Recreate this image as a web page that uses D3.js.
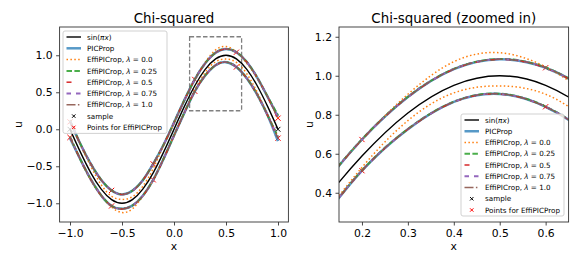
<!DOCTYPE html>
<html><head><meta charset="utf-8">
<script src="https://cdn.jsdelivr.net/npm/d3@7"></script>
<style>body{margin:0;background:#fff}svg{display:block;font-family:"DejaVu Sans",sans-serif}</style>
</head><body><svg id="c" width="581" height="264"></svg>
<script>
// ---------- data ----------
const xs = [-1.0,-0.9,-0.8,-0.7,-0.6,-0.5,-0.4,-0.3,-0.2,-0.1,0.0,0.1,0.2,0.3,0.4,0.5,0.6,0.7,0.8,0.9,1.0];
const sinVals = [0,-0.309,-0.588,-0.809,-0.951,-1.0,-0.951,-0.809,-0.588,-0.309,0,0.309,0.588,0.809,0.951,1.0,0.951,0.809,0.588,0.309,0];

const picUpper = [0.11,-0.199,-0.468,-0.684,-0.826,-0.88,-0.831,-0.689,-0.468,-0.209,0.09,0.394,0.673,0.891,1.034,1.085,1.041,0.909,0.698,0.439,0.17];
const picLower = [-0.12,-0.409,-0.678,-0.894,-1.036,-1.075,-1.031,-0.899,-0.683,-0.399,-0.085,0.224,0.513,0.726,0.866,0.907,0.841,0.689,0.468,0.189,-0.16];

const eff00Upper = [0.10,-0.21,-0.50,-0.75,-0.905,-0.948,-0.912,-0.77,-0.53,-0.22,0.08,0.394,0.673,0.905,1.072,1.118,1.045,0.89,0.69,0.44,0.15];
const eff00Lower = [-0.11,-0.41,-0.69,-0.90,-1.05,-1.125,-1.075,-0.905,-0.69,-0.40,-0.085,0.23,0.53,0.77,0.912,0.948,0.905,0.75,0.50,0.20,-0.10];

const eff025Upper = [0.12,-0.198,-0.467,-0.683,-0.825,-0.879,-0.830,-0.688,-0.467,-0.208,0.091,0.395,0.674,0.892,1.035,1.086,1.042,0.910,0.700,0.442,0.19];
const eff025Lower = [-0.10,-0.408,-0.677,-0.893,-1.035,-1.074,-1.030,-0.898,-0.682,-0.398,-0.084,0.225,0.514,0.727,0.867,0.908,0.842,0.690,0.469,0.190,-0.10];

const eff05Upper = [0.10,-0.200,-0.469,-0.685,-0.827,-0.881,-0.832,-0.690,-0.469,-0.210,0.089,0.393,0.672,0.890,1.033,1.084,1.040,0.908,0.697,0.437,0.14];
const eff05Lower = [-0.11,-0.410,-0.679,-0.895,-1.037,-1.076,-1.032,-0.900,-0.684,-0.400,-0.086,0.223,0.512,0.725,0.865,0.906,0.840,0.688,0.467,0.188,-0.13];

const eff075Upper = [0.11,-0.199,-0.468,-0.684,-0.826,-0.880,-0.831,-0.689,-0.468,-0.209,0.090,0.394,0.673,0.891,1.034,1.085,1.041,0.909,0.698,0.439,0.16];
const eff075Lower = [-0.11,-0.409,-0.678,-0.894,-1.036,-1.075,-1.031,-0.899,-0.683,-0.399,-0.085,0.224,0.513,0.726,0.866,0.907,0.841,0.689,0.468,0.189,-0.11];

const eff10Upper = [0.10,-0.199,-0.468,-0.684,-0.826,-0.880,-0.831,-0.689,-0.468,-0.209,0.090,0.394,0.673,0.891,1.034,1.085,1.041,0.909,0.698,0.439,0.15];
const eff10Lower = [-0.11,-0.409,-0.678,-0.894,-1.036,-1.075,-1.031,-0.899,-0.683,-0.399,-0.085,0.224,0.513,0.726,0.866,0.907,0.841,0.689,0.468,0.189,-0.12];

const sampleX = [-1.0, 1.0];
const sampleY = [0.0, 0.0];
const pointX = [-1.0,-0.6,-0.2,0.2,0.6,1.0];
const pointUpper = [0.10,-0.826,-0.468,0.673,1.041,0.15];
const pointLower = [-0.11,-1.036,-0.683,0.513,0.841,-0.12];

const leftXTicks = [-1.0,-0.5,0.0,0.5,1.0];
const leftYTicks = [-1.0,-0.5,0.0,0.5,1.0];
const rightXTicks = [0.2,0.3,0.4,0.5,0.6];
const rightYTicks = [0.4,0.6,0.8,1.0,1.2];
const zoomBoxX = [0.15,0.65];
const zoomBoxY = [0.25,1.25];

const titles = ["Chi-squared","Chi-squared (zoomed in)"];
const legendLabels = ["sin(πx)","PICProp","EffiPICrop, λ = 0.0","EffiPICrop, λ = 0.25","EffiPICrop, λ = 0.5","EffiPICrop, λ = 0.75","EffiPICrop, λ = 1.0","sample","Points for EffiPICProp"];

// ---------- styles ----------
const series = [
  {label:legendLabels[0], color:"#000000", w:1.4, dash:null, op:1, ys:[sinVals]},
  {label:legendLabels[1], color:"#1f77b4", w:2.5, dash:null, op:0.75, ys:[picUpper,picLower]},
  {label:legendLabels[2], color:"#ff7f0e", w:1.5, dash:"1.5,2.4", op:1, ys:[eff00Upper,eff00Lower]},
  {label:legendLabels[3], color:"#2ca02c", w:2, dash:"5.5,2.4", op:0.85, ys:[eff025Upper,eff025Lower]},
  {label:legendLabels[4], color:"#d62728", w:1.5, dash:"5,10", op:1, ys:[eff05Upper,eff05Lower]},
  {label:legendLabels[5], color:"#9467bd", w:1.8, dash:"4.5,5", op:1, ys:[eff075Upper,eff075Lower]},
  {label:legendLabels[6], color:"#8c564b", w:1.4, dash:"9,2.4,1.5,2.4", op:0.9, ys:[eff10Upper,eff10Lower]}
];

const svg = d3.select("#c");
const FONT = '"DejaVu Sans", sans-serif';

const panels = [
  {x:d3.scaleLinear([-1.1,1.1],[59.6,288.4]), y:d3.scaleLinear([-1.253,1.382],[222,27]),
   xt:leftXTicks, yt:leftYTicks, title:titles[0], ulabX:21.5, legend:{x:63,y:31,w:104,row1:37,sp:11.3}, box:true},
  {x:d3.scaleLinear([0.15,0.65],[339,568.6]), y:d3.scaleLinear([0.25,1.25],[222,27]),
   xt:rightXTicks, yt:rightYTicks, title:titles[1], ulabX:312.5, legend:{x:461,y:114,w:103,row1:120,sp:11.25}, box:false}
];

function xMark(g, cx, cy, s, color, w){
  g.append("path").attr("d",`M${cx-s},${cy-s}L${cx+s},${cy+s}M${cx-s},${cy+s}L${cx+s},${cy-s}`)
    .attr("stroke",color).attr("stroke-width",w).attr("fill","none");
}

function addLabel(t, label){
  if(label.startsWith("sin")){
    t.append("tspan").text("sin(");
    t.append("tspan").attr("font-style","italic").text("πx");
    t.append("tspan").text(")");
  } else if(label.includes("λ")){
    const [a,b] = label.split("λ");
    t.append("tspan").text(a);
    t.append("tspan").attr("font-style","italic").text("λ");
    t.append("tspan").text(b);
  } else t.text(label);
}

panels.forEach((p,pi)=>{
  const g = svg.append("g");
  const [x0,x1] = p.x.range(), [y0,y1] = p.y.range();
  const clipId = "clip"+pi;
  svg.append("clipPath").attr("id",clipId).append("rect")
    .attr("x",x0).attr("y",y1).attr("width",x1-x0).attr("height",y0-y1);
  const plot = g.append("g").attr("clip-path",`url(#${clipId})`);
  const line = d3.line().x(d=>p.x(d[0])).y(d=>p.y(d[1])).curve(d3.curveNatural);

  // scatter markers (beneath the lines, like matplotlib's zorder)
  sampleX.forEach((v,i)=>xMark(plot,p.x(v),p.y(sampleY[i]),2.4,"#000",1.0));
  pointX.forEach((v,i)=>{
    xMark(plot,p.x(v),p.y(pointUpper[i]),2.6,"#ff0000",1.0);
    xMark(plot,p.x(v),p.y(pointLower[i]),2.6,"#ff0000",1.0);
  });

  if(p.box){
    plot.append("rect").attr("x",p.x(zoomBoxX[0])).attr("y",p.y(zoomBoxY[1]))
      .attr("width",p.x(zoomBoxX[1])-p.x(zoomBoxX[0])).attr("height",p.y(zoomBoxY[0])-p.y(zoomBoxY[1]))
      .attr("fill","none").attr("stroke","#808080").attr("stroke-width",1.3).attr("stroke-dasharray","4.5,2.2");
  }

  series.forEach(s=>{
    s.ys.forEach(arr=>{
      plot.append("path").datum(xs.map((v,i)=>[v,arr[i]]))
        .attr("d",line).attr("fill","none").attr("stroke",s.color)
        .attr("stroke-width",s.w).attr("stroke-opacity",s.op)
        .attr("stroke-dasharray",s.dash);
    });
  });

  // axes
  const ax = g.append("g").attr("transform",`translate(0,${y0})`)
    .call(d3.axisBottom(p.x).tickValues(p.xt).tickFormat(d3.format(".1f")).tickSize(3.5).tickPadding(3.5).tickSizeOuter(0));
  const ay = g.append("g").attr("transform",`translate(${x0},0)`)
    .call(d3.axisLeft(p.y).tickValues(p.yt).tickFormat(d3.format(".1f")).tickSize(3.5).tickPadding(3.5).tickSizeOuter(0));
  [ax,ay].forEach(a=>{
    a.select(".domain").remove();
    a.attr("font-family",FONT).attr("font-size",10.8);
    a.selectAll("text").attr("fill","#000");
    a.selectAll("line").attr("stroke","#333").attr("stroke-width",0.9);
  });
  g.append("rect").attr("x",x0).attr("y",y1).attr("width",x1-x0).attr("height",y0-y1)
    .attr("fill","none").attr("stroke","#333").attr("stroke-width",0.9);

  g.append("text").attr("x",(x0+x1)/2).attr("y",249.5).attr("text-anchor","middle")
    .attr("font-family",FONT).attr("font-size",10.8).text("x");
  g.append("text").attr("transform",`translate(${p.ulabX},${(y0+y1)/2}) rotate(-90)`).attr("text-anchor","middle")
    .attr("font-family",FONT).attr("font-size",10.8).text("u");
  g.append("text").attr("x",(x0+x1)/2).attr("y",23).attr("text-anchor","middle")
    .attr("font-family",FONT).attr("font-size",13.4).text(p.title);

  // legend
  const L = p.legend;
  const lg = g.append("g");
  const nRows = legendLabels.length;
  const h = (L.row1 - L.y) + (nRows-1)*L.sp + 6;
  lg.append("rect").attr("x",L.x).attr("y",L.y).attr("width",L.w).attr("height",h).attr("rx",2)
    .attr("fill","#fff").attr("fill-opacity",0.8).attr("stroke","#cccccc").attr("stroke-width",0.9);
  const hx0 = L.x+3.5, hx1 = L.x+18, tx = L.x+24;
  const entries = series.map(s=>({type:"line",s})).concat([
    {type:"mark",color:"#000",label:legendLabels[7]},
    {type:"mark",color:"#ff0000",label:legendLabels[8]}
  ]);
  entries.forEach((e,i)=>{
    const cy = L.row1 + i*L.sp;
    if(e.type==="line"){
      lg.append("line").attr("x1",hx0).attr("x2",hx1).attr("y1",cy).attr("y2",cy)
        .attr("stroke",e.s.color).attr("stroke-width",e.s.w).attr("stroke-opacity",e.s.op)
        .attr("stroke-dasharray",e.s.dash);
    } else {
      xMark(lg,(hx0+hx1)/2,cy,1.7,e.color,1.0);
    }
    const t = lg.append("text").attr("x",tx).attr("y",cy+2.6)
      .attr("font-family",FONT).attr("font-size",7.2).attr("fill","#000");
    addLabel(t, e.type==="line"? e.s.label : e.label);
  });
});
</script></body></html>
